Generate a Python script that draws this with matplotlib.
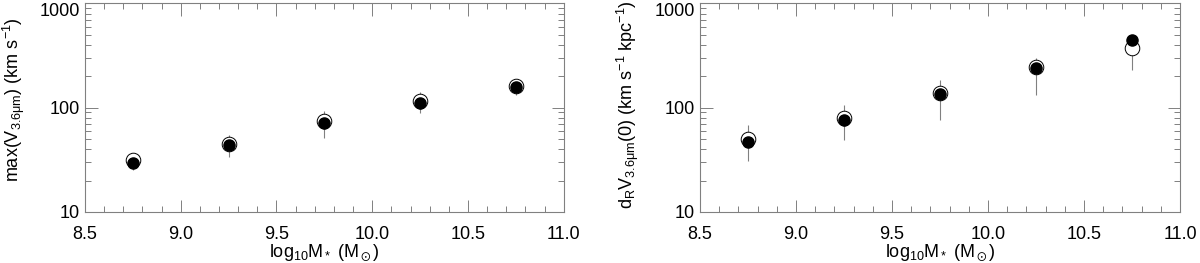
import matplotlib
matplotlib.use("Agg")
import matplotlib.pyplot as plt
from matplotlib.ticker import MultipleLocator, LogLocator, NullFormatter, FixedLocator, FixedFormatter
import numpy as np

plt.rcParams['font.family'] = ['Liberation Sans', 'DejaVu Sans']
plt.rcParams['mathtext.fontset'] = 'custom'
plt.rcParams['mathtext.rm'] = 'Liberation Sans'
plt.rcParams['mathtext.it'] = 'Liberation Sans'
plt.rcParams['mathtext.sf'] = 'Liberation Sans'

mass = [8.75, 9.25, 9.75, 10.25, 10.75]

# Left panel: max(V)
vmax_filled = [29.8, 43.8, 70.6, 112, 159]
vmax_open = [31.4, 45, 73.8, 115, 162]
vmax_lo = [25, 34, 51, 89, 133]
vmax_hi = [36, 55, 92, 140, 186]

# Right panel: d_R V(0)
dv_filled = [46.4, 75.5, 134, 239, 443]
dv_open = [50, 79.5, 139, 244, 372]
dv_lo = [30.5, 49, 75.5, 133, 232]
dv_hi = [69, 106, 186, 300, 470]

xticks = [8.5, 9.0, 9.5, 10.0, 10.5, 11.0]
xticklabels = ['8.5', '9.0', '9.5', '10.0', '10.5', '11.0']
yticks = [10, 100, 1000]
yticklabels = ['10', '100', '1000']

fig = plt.figure(figsize=(12, 2.63), dpi=100)
ax1 = fig.add_axes([0.0708, 0.194, 0.399, 0.793])
ax2 = fig.add_axes([0.5833, 0.194, 0.400, 0.793])

grey = '#808080'

def draw(ax, filled, opn, lo, hi, ylabel, lsize, lx, ly):
    opn = np.array(opn); lo = np.array(lo); hi = np.array(hi)
    ax.errorbar(mass, opn, yerr=[opn - lo, hi - opn], fmt='none',
                ecolor=grey, elinewidth=0.8, capsize=0, zorder=1)
    ax.plot(mass, opn, 'o', ms=10.5, mfc='white', mec='black', mew=0.7, zorder=2)
    ax.plot(mass, filled, 'o', ms=8, mfc='black', mec='black', zorder=3)
    ax.set_yscale('log')
    ax.set_xlim(8.5, 11.0)
    ax.set_ylim(10, 1000)
    ax.set_xticks(xticks)
    ax.set_xticklabels(xticklabels)
    ax.xaxis.set_minor_locator(MultipleLocator(0.1))
    ax.yaxis.set_major_locator(FixedLocator(yticks))
    ax.yaxis.set_major_formatter(FixedFormatter(yticklabels))
    ax.yaxis.set_minor_locator(LogLocator(base=10, subs=np.arange(2, 10)))
    ax.yaxis.set_minor_formatter(NullFormatter())
    ax.tick_params(which='both', direction='in', top=True, right=True,
                   color=grey, labelsize=13)
    ax.tick_params(axis='x', which='major', pad=10)
    ax.tick_params(axis='y', which='major', pad=3.5)
    ax.tick_params(which='major', length=9, width=0.7)
    ax.tick_params(which='minor', length=4.5, width=0.7)
    for s in ax.spines.values():
        s.set_color(grey)
        s.set_linewidth(0.8)
    fig.canvas.draw()
    for t in ax.get_yticklabels():
        if t.get_text() == '1000':
            t.set_va('top')
    ax.set_xlabel(r'$\mathregular{log_{10}M_* \ (M_\odot)}$', fontsize=13, labelpad=0)
    ax.set_ylabel(ylabel, fontsize=lsize)
    ax.yaxis.set_label_coords(lx, ly)

draw(ax1, vmax_filled, vmax_open, vmax_lo, vmax_hi,
     r'$\mathregular{max(V_{3.6\mu m})\ (km\ s^{-1})}$', 13, -0.122, 0.54)
draw(ax2, dv_filled, dv_open, dv_lo, dv_hi,
     r'$\mathregular{d_R V_{3.6\mu m}(0)\ (km\ s^{-1}\ kpc^{-1})}$', 13, -0.122, 0.516)

fig.savefig('out.png', dpi=100)
